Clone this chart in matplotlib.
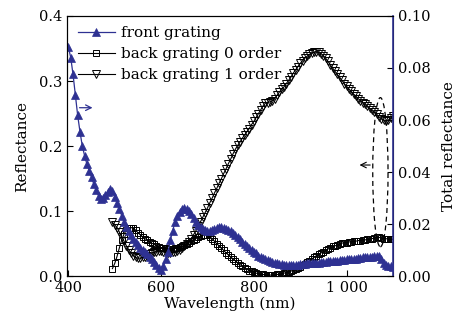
import numpy as np
import matplotlib
matplotlib.use('Agg')
import matplotlib.pyplot as plt
from matplotlib.patches import Ellipse

plt.rcParams['font.family'] = 'serif'
plt.rcParams['font.serif'] = ['DejaVu Serif']
plt.rcParams['mathtext.fontset'] = 'dejavuserif'

blue = '#2e3192'

# wavelength grids (nm)
wl_front = np.arange(400, 1101, 5)
wl_back = np.arange(495, 1101, 5)

# front grating, total reflectance (right axis)
front = [
    0.0880, 0.0840, 0.0775, 0.0695, 0.0618, 0.0555, 0.0500, 0.0463, 0.0430, 0.0405,  # 400-445
    0.0380, 0.0353, 0.0330, 0.0310, 0.0298, 0.0300, 0.0313, 0.0325, 0.0335, 0.0328,  # 450-495
    0.0305, 0.0283, 0.0258, 0.0233, 0.0210, 0.0190, 0.0173, 0.0158, 0.0145, 0.0133,  # 500-545
    0.0120, 0.0110, 0.0103, 0.0093, 0.0085, 0.0075, 0.0065, 0.0055, 0.0043, 0.0033,  # 550-595
    0.0025, 0.0040, 0.0065, 0.0095, 0.0140, 0.0175, 0.0210, 0.0233, 0.0248, 0.0258,  # 600-645
    0.0263, 0.0260, 0.0250, 0.0238, 0.0223, 0.0210, 0.0198, 0.0190, 0.0183, 0.0178,  # 650-695
    0.0175, 0.0175, 0.0178, 0.0180, 0.0185, 0.0188, 0.0188, 0.0185, 0.0183, 0.0178,  # 700-745
    0.0173, 0.0165, 0.0158, 0.0150, 0.0143, 0.0133, 0.0125, 0.0115, 0.0108, 0.0100,  # 750-795
    0.0093, 0.0088, 0.0080, 0.0075, 0.0070, 0.0065, 0.0063, 0.0058, 0.0055, 0.0053,  # 800-845
    0.0050, 0.0048, 0.0048, 0.0045, 0.0045, 0.0045, 0.0045, 0.0045, 0.0045, 0.0045,  # 850-895
    0.0048, 0.0048, 0.0048, 0.0050, 0.0050, 0.0050, 0.0053, 0.0053, 0.0053, 0.0055,  # 900-945
    0.0055, 0.0055, 0.0058, 0.0058, 0.0060, 0.0060, 0.0060, 0.0063, 0.0063, 0.0063,  # 950-995
    0.0065, 0.0065, 0.0068, 0.0068, 0.0068, 0.0070, 0.0070, 0.0073, 0.0073, 0.0073,  # 1000-1045
    0.0075, 0.0075, 0.0078, 0.0078, 0.0080, 0.0065, 0.0053, 0.0045, 0.0040, 0.0038,  # 1050-1095
    0.0035,                                                                          # 1100
]

# back grating 0 order (left axis)
back0 = [
    0.012, 0.020, 0.031, 0.044, 0.056, 0.065, 0.071, 0.074, 0.075, 0.074,  # 495-540
    0.071, 0.067, 0.064, 0.061, 0.058, 0.056, 0.053, 0.051, 0.049, 0.047,  # 545-590
    0.045, 0.044, 0.043, 0.043, 0.042, 0.042, 0.042, 0.043, 0.044, 0.045,  # 595-640
    0.046, 0.048, 0.050, 0.052, 0.054, 0.056, 0.058, 0.060, 0.062, 0.063,  # 645-690
    0.064, 0.063, 0.061, 0.058, 0.054, 0.050, 0.047, 0.043, 0.040, 0.036,  # 695-740
    0.033, 0.030, 0.027, 0.024, 0.021, 0.018, 0.016, 0.013, 0.011, 0.009,  # 745-790
    0.008, 0.007, 0.005, 0.004, 0.003, 0.003, 0.002, 0.002, 0.002, 0.002,  # 795-840
    0.002, 0.003, 0.003, 0.004, 0.005, 0.006, 0.007, 0.008, 0.010, 0.011,  # 845-890
    0.013, 0.015, 0.017, 0.019, 0.022, 0.024, 0.027, 0.029, 0.032, 0.034,  # 895-940
    0.036, 0.038, 0.040, 0.042, 0.044, 0.046, 0.047, 0.048, 0.050, 0.051,  # 945-990
    0.052, 0.052, 0.053, 0.053, 0.054, 0.054, 0.055, 0.055, 0.056, 0.056,  # 995-1040
    0.057, 0.057, 0.058, 0.059, 0.060, 0.060, 0.059, 0.058, 0.058, 0.057,  # 1045-1090
    0.057, 0.057,                                                          # 1095-1100
]

# back grating 1 order (left axis)
back1 = [
    0.083, 0.079, 0.075, 0.068, 0.061, 0.054, 0.047, 0.041, 0.036, 0.032,  # 495-540
    0.029, 0.028, 0.028, 0.029, 0.030, 0.032, 0.034, 0.036, 0.037, 0.038,  # 545-590
    0.039, 0.039, 0.038, 0.037, 0.036, 0.036, 0.037, 0.038, 0.039, 0.041,  # 595-640
    0.043, 0.046, 0.049, 0.053, 0.058, 0.064, 0.070, 0.077, 0.084, 0.091,  # 645-690
    0.098, 0.105, 0.113, 0.120, 0.128, 0.135, 0.143, 0.150, 0.158, 0.165,  # 695-740
    0.173, 0.180, 0.188, 0.195, 0.201, 0.206, 0.212, 0.217, 0.222, 0.227,  # 745-790
    0.233, 0.238, 0.244, 0.250, 0.256, 0.262, 0.266, 0.267, 0.268, 0.270,  # 795-840
    0.273, 0.278, 0.283, 0.287, 0.291, 0.296, 0.301, 0.306, 0.312, 0.317,  # 845-890
    0.322, 0.327, 0.331, 0.335, 0.338, 0.341, 0.343, 0.344, 0.345, 0.344,  # 895-940
    0.342, 0.339, 0.335, 0.330, 0.325, 0.320, 0.315, 0.310, 0.306, 0.301,  # 945-990
    0.296, 0.292, 0.288, 0.284, 0.280, 0.277, 0.273, 0.270, 0.267, 0.264,  # 995-1040
    0.261, 0.258, 0.255, 0.252, 0.249, 0.245, 0.242, 0.240, 0.239, 0.240,  # 1045-1090
    0.243, 0.247,                                                          # 1095-1100
]

x_ticks = [400, 600, 800, 1000]
x_labels = ['400', '600', '800', '1 000']

fig = plt.figure(figsize=(4.59, 3.31), dpi=100)
ax = fig.add_axes([0.146, 0.165, 0.71, 0.787])
ax2 = ax.twinx()

l0, = ax.plot(wl_back, back0, color='black', lw=0.8, marker='s', ms=4.3,
              mfc='none', mec='black', mew=0.7, label='back grating 0 order')
l1, = ax.plot(wl_back, back1, color='black', lw=0.8, marker='v', ms=5.3,
              mfc='none', mec='black', mew=0.7, label='back grating 1 order')
lf, = ax2.plot(wl_front, front, color=blue, lw=0.9, marker='^', ms=6,
               mfc=blue, mec=blue, mew=0.5, label='front grating')

ax.set_xlim(397, 1100)
ax.set_ylim(0, 0.4)
ax2.set_ylim(0, 0.1)
ax.set_xticks(x_ticks)
ax.set_xticklabels(x_labels)
ax.set_yticks([0.0, 0.1, 0.2, 0.3, 0.4])
ax.set_yticklabels(['0.0', '0.1', '0.2', '0.3', '0.4'])
ax2.set_yticks([0.0, 0.02, 0.04, 0.06, 0.08, 0.10])
ax2.set_yticklabels(['0.00', '0.02', '0.04', '0.06', '0.08', '0.10'])

for a in (ax, ax2):
    a.tick_params(direction='in', labelsize=10.5, length=4, width=0.8)
ax2.spines['right'].set_color(blue)
ax2.spines['right'].set_linewidth(1.2)

ax.set_xlabel('Wavelength (nm)', fontsize=11, labelpad=1)
ax.set_ylabel('Reflectance', fontsize=11, labelpad=7)
ax2.set_ylabel('Total reflectance', fontsize=11, labelpad=8)

# dashed ellipse around the back grating curves, with arrow to the left axis
ax.add_patch(Ellipse((1073, 0.160), 33, 0.229, fill=False, ls=(0, (4, 3)),
                     lw=0.9, ec='black'))
ax.annotate('', xy=(1022, 0.171), xytext=(1057, 0.171),
            arrowprops=dict(arrowstyle='->', lw=0.8, color='black'))
# arrow pointing front grating to the right axis
ax.annotate('', xy=(458, 0.259), xytext=(418, 0.259),
            arrowprops=dict(arrowstyle='->', lw=0.9, color=blue))

ax2.legend(handles=[lf, l0, l1], loc='upper left', frameon=False,
           fontsize=11, handlelength=2.4, bbox_to_anchor=(0.02, 0.978),
           borderaxespad=0.0, labelspacing=0.45, handletextpad=0.4,
           borderpad=0.3)

fig.savefig('out.png', dpi=100)
